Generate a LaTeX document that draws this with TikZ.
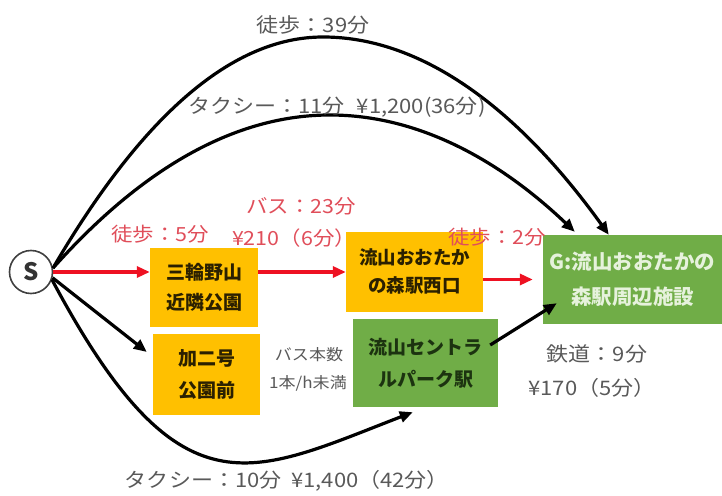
\documentclass[tikz,border=0pt]{standalone}
\usepackage{fontspec}
\setmainfont{Noto Sans CJK JP}
\newfontfamily\lblfont[FakeStretch=1.1]{Noto Sans CJK JP}
\usetikzlibrary{calc,arrows.meta}
\definecolor{orng}{HTML}{FFC000}
\definecolor{grn}{HTML}{70AD47}
\definecolor{otext}{HTML}{2B2000}
\definecolor{gtext}{HTML}{1C3310}
\definecolor{ltext}{HTML}{E6F2DC}
\definecolor{rlbl}{HTML}{E04E5A}
\definecolor{rarrow}{HTML}{EE1122}
\definecolor{glbl}{HTML}{595959}
\newcommand\myfs[2]{\fontsize{#1}{#2}\selectfont}
\begin{document}
\begin{tikzpicture}[x=1pt,y=1pt,
  obox/.style={fill=orng,inner sep=0pt,align=center,text=otext,font=\myfs{19}{30}\bfseries},
  gbox/.style={fill=grn,inner sep=0pt,align=center,font=\myfs{19}{32}\bfseries},
  lbl/.style={text=glbl,font=\lblfont\myfs{20}{30},inner sep=0pt},
  slbl/.style={text=glbl,font=\lblfont\myfs{15.5}{28},inner sep=0pt,align=center},
  rlabel/.style={text=rlbl,font=\lblfont\myfs{19.5}{30},inner sep=0pt},
  blk/.style={line width=3.2pt,black,-{Triangle[length=13pt,width=11pt]}},
  rarr/.style={line width=3.2pt,rarrow,-{Triangle[length=13pt,width=11pt]}}]
\useasboundingbox (0,0) rectangle (722,495);
% nodes
\node[circle,draw=black!75,line width=1.6pt,fill=white,minimum size=43pt,inner sep=0pt,font=\myfs{24}{26}\bfseries,text=black!80] (S) at (31,223) {S};
\node[obox,minimum width=108pt,minimum height=79pt] (M) at (204,207.5) {三輪野山\\近隣公園};
\node[obox,minimum width=107pt,minimum height=81pt,font=\myfs{19}{32}\bfseries] (K) at (206.5,120.5) {加二号\\公園前};
\node[obox,minimum width=137pt,minimum height=80pt,font=\myfs{18.5}{28}\bfseries] (W) at (414.5,223) {流山おおたか\\の森駅西口};
\node[gbox,minimum width=145pt,minimum height=88pt,text=gtext] (C) at (425.5,132) {流山セントラ\\ルパーク駅};
\node[gbox,minimum width=179pt,minimum height=89pt,text=ltext,font=\myfs{20.5}{35}\bfseries] (G) at (632.5,215.5) {G:流山おおたかの\\森駅周辺施設};
% helper coordinates
\coordinate (pk1) at (323,458);
\coordinate (pk2) at (330,380);
% connectors
\draw[blk] (S.10) .. controls (143,381) and (233,458) .. (pk1) .. controls (418,458) and (514,392) .. ($(G.north west)+(66,0)$);
\draw[blk] (S.10) .. controls (144,329) and (237,380) .. (pk2) .. controls (412,380) and (493,341) .. ($(G.north west)+(32,3)$);
\draw[blk] (S.-15) -- ($(K.west)+(-6,22.5)$);
\draw[blk] (S.-20) .. controls (180,-25) and (250,20) .. ($(C.south west)+(60,-5)$);
\draw[blk] ($(C.east)+(-8,18)$) -- ($(G.south west)+(14,21)$);
\draw[rarr] (S.east) -- (S.east -| M.west);
\draw[rarr] (W.west -| M.east) -- (W.west);
\draw[rarr,shorten >=10pt] (G.west -| W.east) -- (G.west);
% labels
\node[lbl] (t1) at (313,470) {徒歩：39分};
\node[lbl] (t2) at (337,388) {タクシー：11分\hspace{0.6em}¥1,200(36分)};
\node[rlabel] (r1) at (160,261) {徒歩：5分};
\node[rlabel] (r2) at (301,289) {バス：23分};
\node[rlabel] (r3) at (294,257) {¥210（6分）};
\node[rlabel] (r4) at (497,258) {徒歩：2分};
\node[slbl] (b1) at (309,140) {バス本数};
\node[slbl] (b2) at (308,112) {1本/h未満};
\node[lbl] (e1) at (597,141) {鉄道：9分};
\node[lbl] (e2) at (592,107) {¥170（5分）};
\node[lbl] (t3) at (287,14) {タクシー：10分\hspace{0.5em}¥1,400（42分）};
\end{tikzpicture}
\end{document}
